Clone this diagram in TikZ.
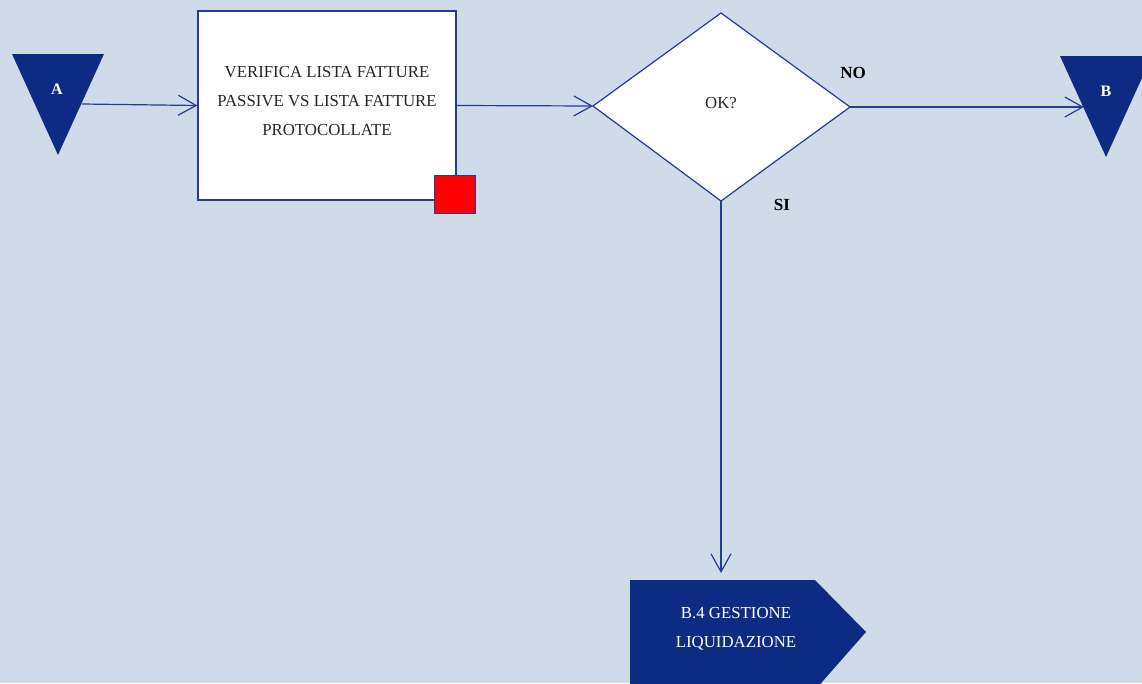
\documentclass[tikz,border=0pt]{standalone}
\usepackage{fontspec}
\setmainfont{Liberation Serif}
\usetikzlibrary{arrows.meta,shapes.geometric}
\definecolor{bgc}{RGB}{207,219,232}
\definecolor{navy}{RGB}{13,43,130}
\definecolor{linec}{RGB}{35,60,150}
\tikzset{
  conn/.style={draw=linec,line width=1.2pt,-{Straight Barb[length=18pt,width=20pt,line width=1.2pt]}},
  procbox/.style={draw=linec,line width=1.2pt,fill=white,inner sep=0pt},
  lbl/.style={font=\fontsize{16.8}{29}\selectfont,align=center,text=black!85},
  wlbl/.style={font=\fontsize{16.8}{29}\selectfont,align=center,text=white},
  blbl/.style={font=\bfseries\fontsize{17}{20}\selectfont,text=black},
}
\begin{document}
\begin{tikzpicture}[x=1pt,y=-1pt]
\fill[bgc] (0,0) rectangle (1142,683);
\useasboundingbox (0,0) rectangle (1142,683);
% connector A
\fill[navy] (12,54) -- (104,54) -- (58,155) -- cycle;
\node[font=\bfseries\fontsize{16}{19}\selectfont,text=white] (A) at (57,89) {A};
\coordinate (Aout) at (82,104);
% process box
\node[procbox,minimum width=258pt,minimum height=189pt] (box) at (327,105.5) {};
\node[lbl] (boxtxt) at (327,101) {VERIFICA LISTA FATTURE\\PASSIVE VS LISTA FATTURE\\PROTOCOLLATE};
\node[draw=linec,line width=1pt,fill=red,minimum width=41pt,minimum height=38pt,inner sep=0pt] (red) at (454.5,194) {};
% diamond
\draw[linec,line width=1.2pt,fill=white] (593,106) coordinate (dW) -- (721,13) coordinate (dN) -- (850,107) coordinate (dE) -- (721,201) coordinate (dS) -- cycle;
\node[font=\fontsize{16.8}{20}\selectfont,text=black!85] (ok) at (721,103) {OK?};
% B connector
\fill[navy] (1060,56) -- (1152,56) -- (1106,157) -- cycle;
\node[font=\bfseries\fontsize{16}{19}\selectfont,text=white] (B) at (1106,91) {B};
\coordinate (Bin) at (1084,107);
% off-page shape
\fill[navy] (630,580) -- (815,580) -- (866,632) -- (815,690) -- (630,690) -- cycle;
\node[wlbl] (gest) at (736,629) {B.4 GESTIONE\\LIQUIDAZIONE};
\coordinate (gin) at (721,573);
% labels
\node[blbl] (no) at (853,73) {NO};
\node[blbl] (si) at (782,205) {SI};
% connectors
\draw[conn] (Aout) -- (box.west);
\draw[conn] (box.east) -- (dW);
\draw[conn] (dE) -- (Bin);
\draw[conn] (dS) -- (gin);
\end{tikzpicture}
\end{document}
